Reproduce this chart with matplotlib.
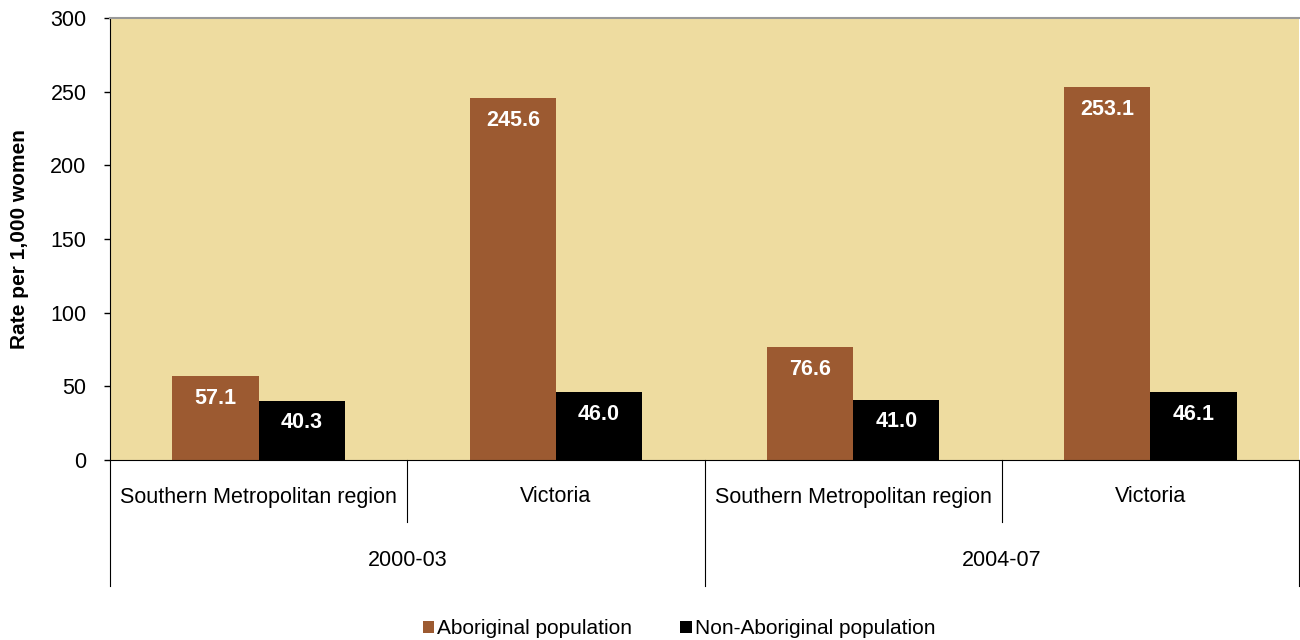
import numpy as np
import matplotlib.pyplot as plt
from matplotlib.lines import Line2D
import matplotlib.transforms as mtransforms

plt.rcParams['font.family'] = ['Liberation Sans', 'DejaVu Sans']

regions = ['Southern Metropolitan region', 'Victoria', 'Southern Metropolitan region', 'Victoria']
periods = ['2000-03', '2004-07']
aboriginal = [57.1, 245.6, 76.6, 253.1]
non_aboriginal = [40.3, 46.0, 41.0, 46.1]

brown = '#9C5A31'
bg = '#EEDCA0'
fs = 15.5

fig = plt.figure(figsize=(13, 6.4), dpi=100)
ax = fig.add_axes([110/1300, 1-460/640, 1189/1300, 442/640])
ax.set_facecolor(bg)

x = np.arange(len(regions))
w = 0.29
b1 = ax.bar(x - w/2, aboriginal, w, color=brown, label='Aboriginal population')
b2 = ax.bar(x + w/2, non_aboriginal, w, color='black', label='Non-Aboriginal population')

for bars, vals in ((b1, aboriginal), (b2, non_aboriginal)):
    for r, v in zip(bars, vals):
        ax.annotate(f'{v:.1f}', (r.get_x() + r.get_width()/2, v), xytext=(0, -16),
                    textcoords='offset points', ha='center', va='center',
                    color='white', fontsize=fs, fontweight='bold')

ax.set_xlim(-0.5, 3.5)
ax.set_ylim(0, 300)
ax.set_yticks(np.arange(0, 301, 50))
ax.tick_params(axis='y', labelsize=fs, length=4, direction='out', width=1, pad=13)
ax.set_xticks([])
ax.spines['right'].set_visible(False)
ax.spines['top'].set_color('#999999')
ax.spines['top'].set_linewidth(1.5)
ax.spines['left'].set_color('black')
ax.spines['bottom'].set_color('black')

ax.set_ylabel('Rate per 1,000 women', fontsize=15, fontweight='bold')
ax.yaxis.set_label_coords(-81/1189, 0.5)

# two-level category axis
trans = mtransforms.blended_transform_factory(ax.transData, ax.transAxes)
px = 1/442  # one pixel in axes fraction (vertical)
for i, name in enumerate(regions):
    ax.text(i, -37*px, name, transform=trans, ha='center', va='center', fontsize=fs)
for j, p in enumerate(periods):
    ax.text(2*j + 0.5, -100*px, p, transform=trans, ha='center', va='center', fontsize=fs)
for xb in (-0.5, 1.5, 3.5):
    ax.add_line(Line2D([xb, xb], [0, -126*px], transform=trans, color='black', lw=0.8, clip_on=False))
for xb in (0.5, 2.5):
    ax.add_line(Line2D([xb, xb], [0, -62*px], transform=trans, color='black', lw=0.8, clip_on=False))

fig.legend(handles=[b1, b2], loc='center', bbox_to_anchor=(679/1300, 1-629/640), ncol=2,
           frameon=False, fontsize=15, handlelength=0.55, handleheight=0.55, handletextpad=0.15,
           columnspacing=2.3)

fig.savefig('out.png', dpi=100)
